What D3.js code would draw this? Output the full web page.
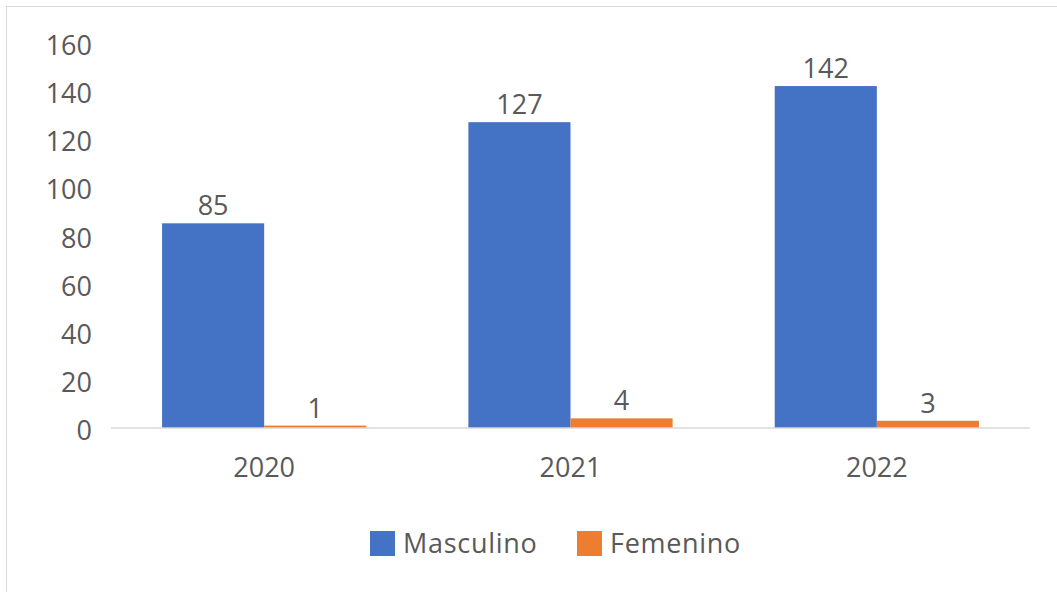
<!DOCTYPE html>
<html>
<head>
<meta charset="utf-8">
<script src="https://cdn.jsdelivr.net/npm/d3@7"></script>
<style>
  body { margin: 0; background: #fff; }
  text { font-family: "Open Sans", "Segoe UI", sans-serif; fill: #595959; }
</style>
</head>
<body>
<div id="chart"></div>
<script>
const width = 1057,
    height = 592;

// Datos
const years = ["2020", "2021", "2022"];
const seriesNames = ["Masculino", "Femenino"];
const masculino = [85, 127, 142];
const femenino = [1, 4, 3];
const yTicks = [0, 20, 40, 60, 80, 100, 120, 140, 160];
const colors = ["#4472C4", "#ED7D31"];

const svg = d3.select("#chart")
    .append("svg")
    .attr("width", width)
    .attr("height", height);

// Marco del gráfico
svg.append("rect")
    .attr("x", 6.5)
    .attr("y", 6.5)
    .attr("width", width + 10)
    .attr("height", height + 10)
    .attr("fill", "none")
    .attr("stroke", "#D9D9D9");

const x0 = d3.scaleBand()
    .domain(years)
    .range([111, 1030]);

const x1 = d3.scaleBand()
    .domain(seriesNames)
    .range([0, x0.bandwidth()])
    .paddingOuter(0.5);

const y = d3.scaleLinear()
    .domain([0, 160])
    .range([428, 42.7]);

// Eje Y (solo etiquetas)
svg.append("g")
    .selectAll("text")
    .data(yTicks)
    .enter()
    .append("text")
    .attr("x", 92)
    .attr("y", d => y(d) + 5)
    .attr("text-anchor", "end")
    .attr("dominant-baseline", "middle")
    .style("font-size", "27px")
    .text(d => d);

const rows = years.map((yr, i) => ({ year: yr, values: [masculino[i], femenino[i]] }));

const groups = svg.selectAll("g.year")
    .data(rows)
    .enter()
    .append("g")
    .attr("class", "year")
    .attr("transform", d => `translate(${x0(d.year)},0)`);

groups.selectAll("rect")
    .data(d => d.values.map((v, i) => ({ key: seriesNames[i], value: v, i })))
    .enter()
    .append("rect")
    .attr("x", d => x1(d.key))
    .attr("width", x1.bandwidth())
    .attr("y", d => y(d.value))
    .attr("height", d => y(0) - y(d.value))
    .attr("fill", d => colors[d.i]);

groups.selectAll("text.val")
    .data(d => d.values.map((v, i) => ({ key: seriesNames[i], value: v })))
    .enter()
    .append("text")
    .attr("class", "val")
    .attr("x", d => x1(d.key) + x1.bandwidth() / 2)
    .attr("y", d => y(d.value) - 8)
    .attr("text-anchor", "middle")
    .style("font-size", "27px")
    .text(d => d.value);

// Línea base
svg.append("line")
    .attr("x1", 111)
    .attr("x2", 1030)
    .attr("y1", y(0))
    .attr("y2", y(0))
    .attr("stroke", "#D9D9D9")
    .attr("stroke-width", 1.5);

// Etiquetas de categoría
svg.append("g")
    .selectAll("text")
    .data(years)
    .enter()
    .append("text")
    .attr("x", d => x0(d) + x0.bandwidth() / 2)
    .attr("y", 470)
    .attr("text-anchor", "middle")
    .attr("dominant-baseline", "middle")
    .style("font-size", "27px")
    .text(d => d);

// Leyenda
const legendX = [370, 577];
const legend = svg.append("g")
    .selectAll("g")
    .data(seriesNames)
    .enter()
    .append("g")
    .attr("transform", (d, i) => `translate(${legendX[i]},531)`);

legend.append("rect")
    .attr("width", 25)
    .attr("height", 25)
    .attr("fill", (d, i) => colors[i]);

legend.append("text")
    .attr("x", 33)
    .attr("y", 15)
    .attr("dominant-baseline", "middle")
    .style("font-size", "27px")
    .style("letter-spacing", "0.7px")
    .text(d => d);
</script>
</body>
</html>
